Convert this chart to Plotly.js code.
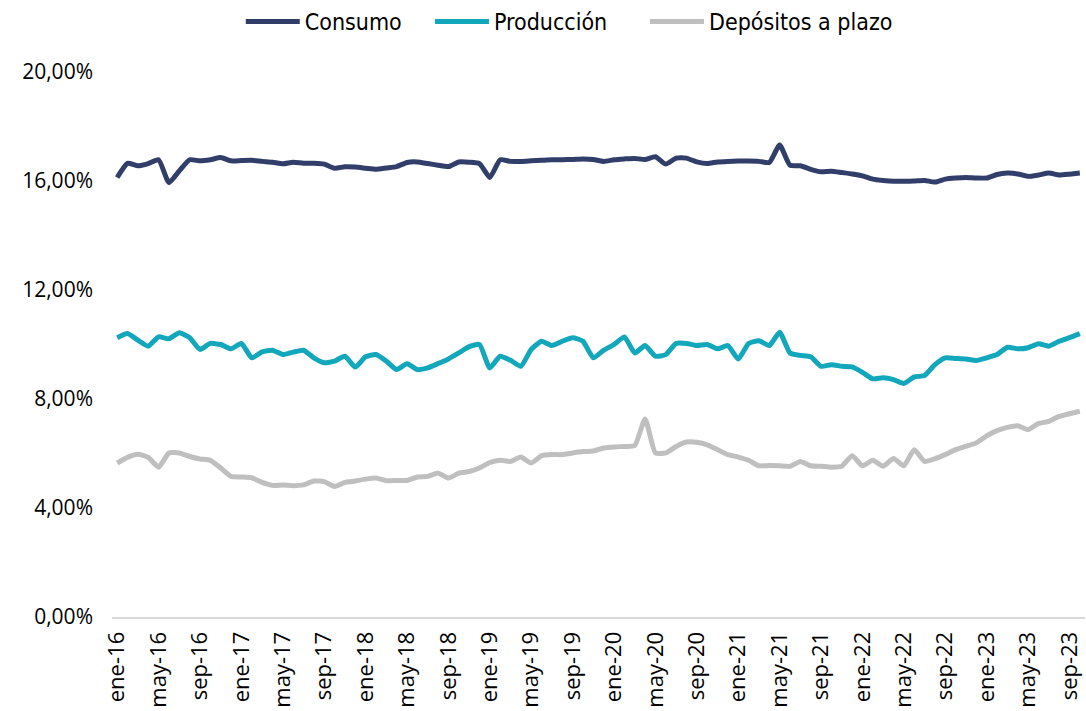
<!DOCTYPE html>
<html>
<head>
<meta charset="utf-8">
<script src="https://cdn.plot.ly/plotly-3.0.1.min.js"></script>
<style>
  html, body { margin: 0; padding: 0; background: #ffffff; }
  #chart { width: 1086px; height: 711px; }
</style>
</head>
<body>
<div id="chart"></div>
<script>
// Monthly categories: ene-16 ... oct-23
const monthNames = ["ene","feb","mar","abr","may","jun","jul","ago","sep","oct","nov","dic"];
const years = ["16","17","18","19","20","21","22","23"];
const months = [];
for (const y of years) {
  for (const m of monthNames) {
    months.push(m + "-" + y);
    if (m === "oct" && y === "23") break;
  }
}

// Tick labels shown on the x axis (every 4 months)
const tickLabels = ["ene-16","may-16","sep-16","ene-17","may-17","sep-17","ene-18","may-18","sep-18",
  "ene-19","may-19","sep-19","ene-20","may-20","sep-20","ene-21","may-21","sep-21",
  "ene-22","may-22","sep-22","ene-23","may-23","sep-23"];

// Consumo (%)
const consumo = [16.13,16.65,16.56,16.64,16.78,15.94,16.37,16.78,16.74,16.78,16.86,16.74,
  16.75,16.76,16.72,16.69,16.63,16.69,16.65,16.65,16.62,16.47,16.52,16.51,
  16.47,16.43,16.48,16.53,16.68,16.70,16.64,16.58,16.53,16.70,16.69,16.64,
  16.13,16.78,16.72,16.72,16.74,16.76,16.78,16.78,16.79,16.81,16.79,16.72,
  16.78,16.81,16.83,16.79,16.89,16.62,16.84,16.84,16.70,16.64,16.70,16.72,
  16.73,16.73,16.72,16.68,17.32,16.58,16.56,16.43,16.34,16.36,16.31,16.26,
  16.19,16.07,16.02,15.99,15.99,16.00,16.02,15.96,16.07,16.11,16.13,16.11,
  16.11,16.24,16.29,16.26,16.17,16.22,16.29,16.22,16.25,16.29];

// Producción (%)
const produccion = [10.25,10.40,10.16,9.94,10.28,10.21,10.43,10.25,9.82,10.04,10.00,9.84,
  10.04,9.51,9.73,9.79,9.63,9.72,9.79,9.51,9.33,9.39,9.57,9.17,
  9.55,9.63,9.39,9.08,9.29,9.08,9.14,9.30,9.47,9.69,9.92,10.00,
  9.14,9.57,9.42,9.20,9.82,10.12,9.96,10.12,10.25,10.12,9.51,9.79,
  10.00,10.28,9.69,9.96,9.57,9.63,10.04,10.04,9.96,10.00,9.84,9.96,
  9.47,10.04,10.14,9.96,10.45,9.69,9.60,9.55,9.20,9.26,9.20,9.18,
  8.98,8.74,8.78,8.71,8.57,8.81,8.86,9.26,9.51,9.49,9.47,9.41,
  9.51,9.63,9.90,9.84,9.88,10.03,9.94,10.12,10.25,10.40];

// Depósitos a plazo (%)
const depositos = [5.65,5.86,5.97,5.86,5.50,6.02,6.02,5.89,5.80,5.75,5.47,5.16,
  5.14,5.11,4.94,4.83,4.84,4.82,4.85,4.99,4.97,4.79,4.94,4.99,
  5.06,5.10,5.00,5.01,5.01,5.14,5.16,5.28,5.10,5.28,5.34,5.47,
  5.67,5.75,5.71,5.87,5.65,5.92,5.96,5.96,6.02,6.07,6.09,6.20,
  6.24,6.26,6.29,7.27,6.02,6.02,6.26,6.42,6.41,6.32,6.14,5.96,
  5.87,5.75,5.55,5.56,5.55,5.53,5.71,5.55,5.53,5.50,5.53,5.92,
  5.55,5.75,5.53,5.82,5.55,6.14,5.71,5.81,5.96,6.14,6.26,6.39,
  6.65,6.84,6.96,7.02,6.88,7.10,7.18,7.36,7.46,7.55];

// Y axis ticks and labels
const yTicks = [0, 4, 8, 12, 16, 20];
const yTickLabels = ["0,00%", "4,00%", "8,00%", "12,00%", "16,00%", "20,00%"];

const mk = (name, y, color, legendId) => ({
  type: "scatter", mode: "lines", name: name,
  x: months, y: y,
  legend: legendId,
  line: { color: color, width: 5, shape: "spline", smoothing: 0.5 },
  hoverinfo: "skip"
});

const data = [
  mk("Consumo", consumo, "#323e6a", "legend"),
  mk("Producción", produccion, "#12a7bb", "legend2"),
  mk("Depósitos a plazo", depositos, "#bfbfbf", "legend3")
];

const legendFont = { family: "DejaVu Sans Condensed, DejaVu Sans, sans-serif", size: 23, color: "#000000" };
const legendBox = (x) => ({
  orientation: "h",
  xref: "container", yref: "container",
  x: x, xanchor: "left",
  y: 1.0, yanchor: "top",
  font: legendFont,
  itemwidth: 54,
  bgcolor: "rgba(0,0,0,0)"
});

const layout = {
  width: 1086, height: 711,
  margin: { l: 112, r: 1, t: 72, b: 94, autoexpand: false },
  paper_bgcolor: "#ffffff",
  plot_bgcolor: "#ffffff",
  separators: ",.",
  showlegend: true,
  legend: legendBox(0.2217),
  legend2: legendBox(0.3959),
  legend3: legendBox(0.5939),
  xaxis: {
    type: "category",
    categoryorder: "array",
    categoryarray: months,
    range: [-0.5, months.length - 0.5],
    tickmode: "array",
    tickvals: tickLabels,
    ticktext: tickLabels,
    tickangle: -90,
    ticks: "",
    showgrid: false,
    zeroline: false,
    showline: true,
    linecolor: "#d9d9d9",
    linewidth: 2,
    ticklabelstandoff: 4,
    tickfont: { family: "Open Sans, sans-serif", size: 22, color: "#000000" },
    fixedrange: true
  },
  yaxis: {
    range: [0, 20],
    tickmode: "array",
    tickvals: yTicks,
    ticktext: yTickLabels,
    ticks: "",
    showgrid: false,
    zeroline: false,
    showline: false,
    ticklabelstandoff: 18,
    tickfont: { family: "Open Sans, sans-serif", size: 21, color: "#000000" },
    fixedrange: true
  }
};

Plotly.newPlot("chart", data, layout, { displayModeBar: false, staticPlot: true });
</script>
</body>
</html>
